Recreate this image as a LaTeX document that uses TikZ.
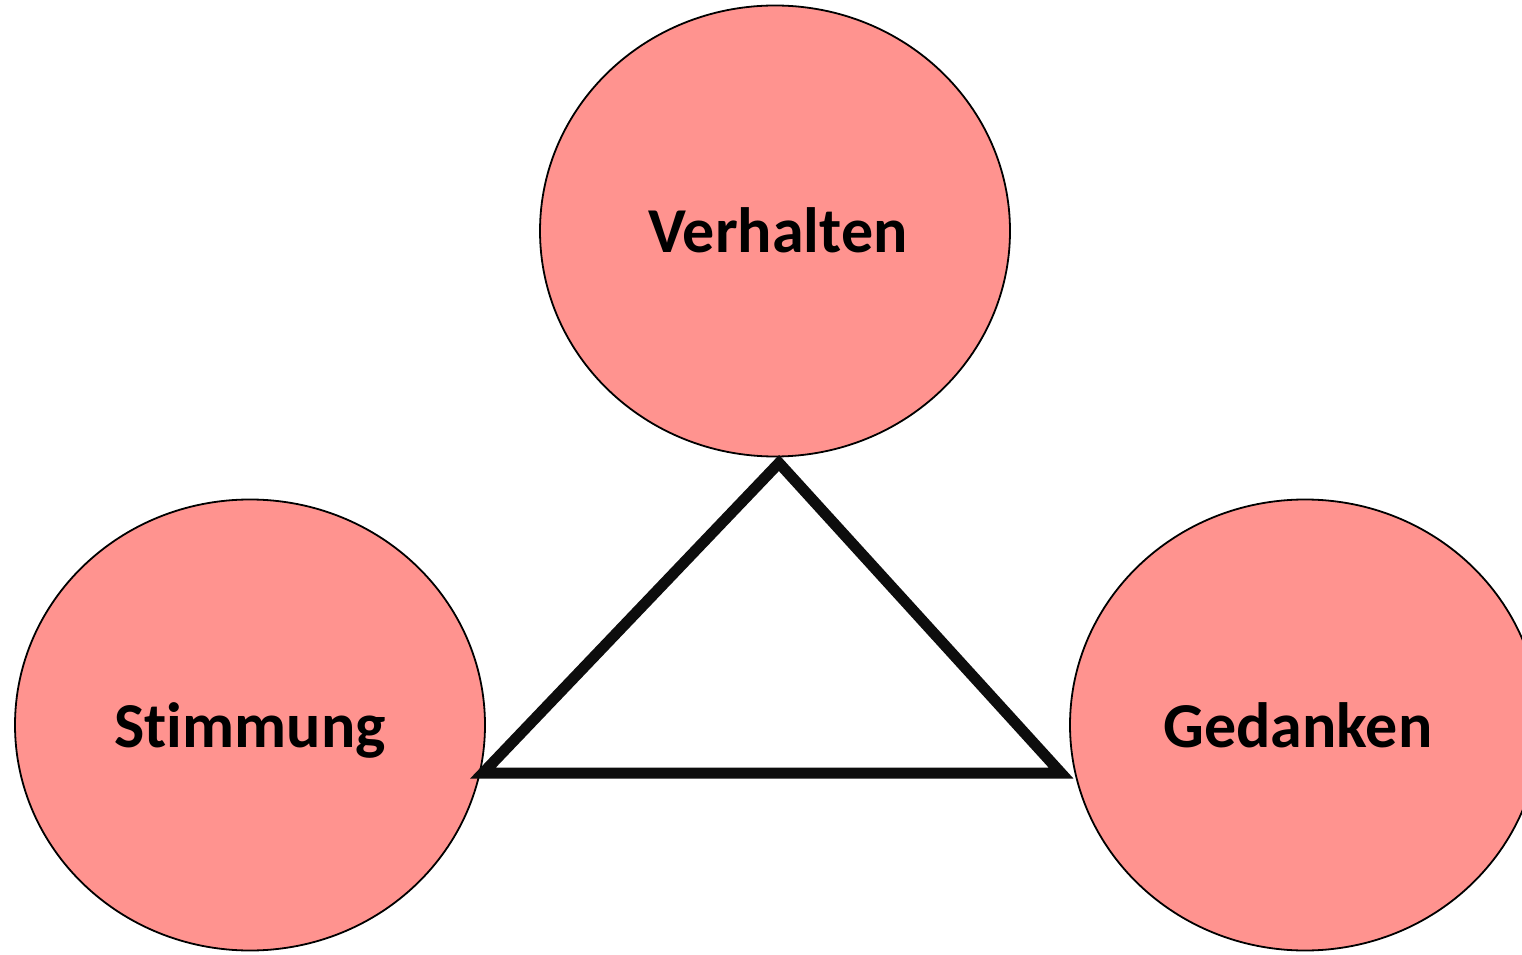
\documentclass[tikz,border=0pt]{standalone}
\usepackage{fontspec}
\setmainfont{Carlito}[Ligatures=NoCommon]
\usetikzlibrary{shapes.geometric}
\definecolor{blobpink}{RGB}{255,147,143}
\definecolor{triblack}{RGB}{13,13,13}
\begin{document}
\begin{tikzpicture}[x=1pt,y=1pt,
  blob/.style={ellipse,draw=black,line width=1.8pt,fill=blobpink,minimum width=470pt,minimum height=451pt,inner sep=0pt},
  lbl/.style={anchor=base,font=\fontsize{64}{70}\selectfont\bfseries,text=black,inner sep=0pt},
  tri/.style={draw=triblack,line width=11pt,line join=miter}]
\useasboundingbox (0,0) rectangle (1522,954);
\node[blob] (verh) at (775,723) {};
\node[blob] (stim) at (250,229) {};
\node[blob] (ged) at (1305,229) {};
\coordinate (ta) at (779,491);
\coordinate (tl) at (483,181);
\coordinate (tr) at (1061,181);
\draw[tri] (ta) -- (tl) -- (tr) -- cycle;
\node[lbl] (verhT) at (778,701) {Verhalten};
\node[lbl] (stimT) at (250,207) {Stimmung};
\node[lbl] (gedT) at (1298,207) {Gedanken};
\end{tikzpicture}
\end{document}
